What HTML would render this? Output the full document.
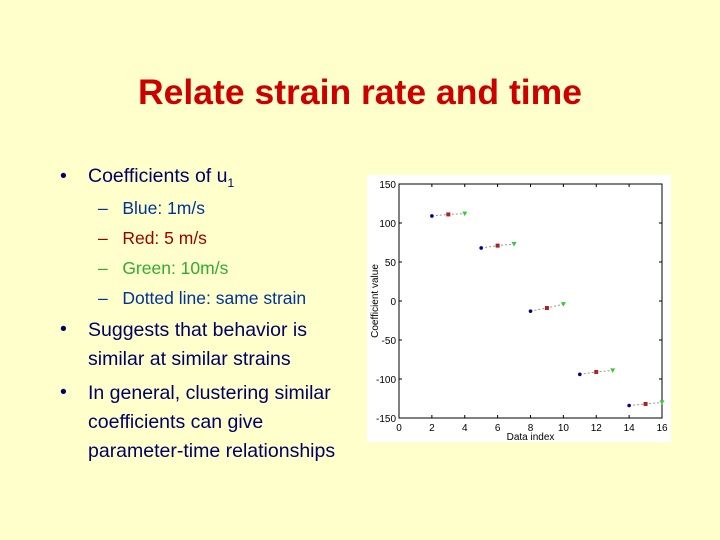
<!DOCTYPE html>
<html><head><meta charset="utf-8"><style>
body{margin:0;width:720px;height:540px;background:#ffffcc;position:relative;overflow:hidden;font-family:"Liberation Sans",sans-serif}
.t{position:absolute;white-space:nowrap}
</style></head><body>
<div class="t" style="left:0;width:720px;text-align:center;top:72px;font-size:35.5px;font-weight:bold;color:#cc0000">Relate strain rate and time</div>
<div style="color:#000066;font-size:19.5px">
<div class="t" style="left:60px;top:165px">•</div>
<div class="t" style="left:88px;top:165px">Coefficients of u<sub style="font-size:12px">1</sub></div>
<div class="t" style="left:98px;top:198px;font-size:17.5px;color:#003399">–&nbsp;&nbsp; Blue: 1m/s</div>
<div class="t" style="left:98px;top:228px;font-size:17.5px;color:#990000">–&nbsp;&nbsp; Red: 5 m/s</div>
<div class="t" style="left:98px;top:258px;font-size:17.5px;color:#33aa33">–&nbsp;&nbsp; Green: 10m/s</div>
<div class="t" style="left:98px;top:288px;font-size:17.5px;color:#003399">–&nbsp;&nbsp; Dotted line: same strain</div>
<div class="t" style="left:60px;top:318px">•</div>
<div class="t" style="left:88px;top:316px;line-height:29px">Suggests that behavior is<br>similar at similar strains</div>
<div class="t" style="left:60px;top:381px">•</div>
<div class="t" style="left:88px;top:379px;line-height:29px">In general, clustering similar<br>coefficients can give<br>parameter-time relationships</div>
</div>
<svg id="chart" style="position:absolute;left:0;top:0" width="720" height="540" font-family="Liberation Sans, sans-serif"></svg>
<script>
const xTicks=[0,2,4,6,8,10,12,14,16];
const yTicks=[150,100,50,0,-50,-100,-150];
const blueX=[2,5,8,11,14];
const blueY=[109,68,-13,-94,-134];
const redX=[3,6,9,12,15];
const redY=[111,71,-9,-91,-132];
const greenX=[4,7,10,13,16];
const greenY=[112,73,-4,-89,-130];
const svg=document.getElementById('chart');
const NS='http://www.w3.org/2000/svg';
const L=399,R=662,T=184,B=418;
const sx=v=>L+(v-0)/16*(R-L);
const sy=v=>B-(v+150)/300*(B-T);
function mk(t,a,p){const e=document.createElementNS(NS,t);for(const k in a)e.setAttribute(k,a[k]);(p||svg).appendChild(e);return e;}
const bg=mk('rect',{x:367,y:175,width:304,height:267,fill:'#ffffff'});


const ax=mk('rect',{x:L,y:T,width:R-L,height:B-T,fill:'none',stroke:'#000','stroke-width':1});


xTicks.forEach(v=>{const x=sx(v);mk('line',{x1:x,x2:x,y1:B,y2:B-3,stroke:'#000'});mk('line',{x1:x,x2:x,y1:T,y2:T+3,stroke:'#000'});
const t=mk('text',{x:x,y:B+13,'font-size':10,'text-anchor':'middle',fill:'#000'});t.textContent=v;

});
yTicks.forEach(v=>{const y=sy(v);mk('line',{x1:L,x2:L+3,y1:y,y2:y,stroke:'#000'});mk('line',{x1:R,x2:R-3,y1:y,y2:y,stroke:'#000'});
const t=mk('text',{x:L-3,y:y+4,'font-size':10,'text-anchor':'end',fill:'#000'});t.textContent=v;

});
const xt=mk('text',{x:(L+R)/2,y:440,'font-size':10,'text-anchor':'middle'});xt.textContent='Data index';


const yt=mk('text',{x:0,y:0,'font-size':10,'text-anchor':'middle',transform:`translate(378,${(T+B)/2}) rotate(-90)`});yt.textContent='Coefficient value';


for(let i=0;i<blueX.length;i++){
const ln=mk('polyline',{points:[[blueX[i],blueY[i]],[redX[i],redY[i]],[greenX[i],greenY[i]]].map(p=>sx(p[0])+','+sy(p[1])).join(' '),fill:'none',stroke:'#999','stroke-width':1,'stroke-dasharray':'2,2'});


const b=mk('circle',{cx:sx(blueX[i]),cy:sy(blueY[i]),r:1.8,fill:'#000099'});


const r=mk('rect',{x:sx(redX[i])-2,y:sy(redY[i])-2,width:4,height:4,fill:'#aa2222'});


const gx=sx(greenX[i]),gy=sy(greenY[i]);
const g=mk('polygon',{points:`${gx-2.5},${gy-2} ${gx+2.5},${gy-2} ${gx},${gy+2.5}`,fill:'#33cc33'});


}
</script>
</body></html>
